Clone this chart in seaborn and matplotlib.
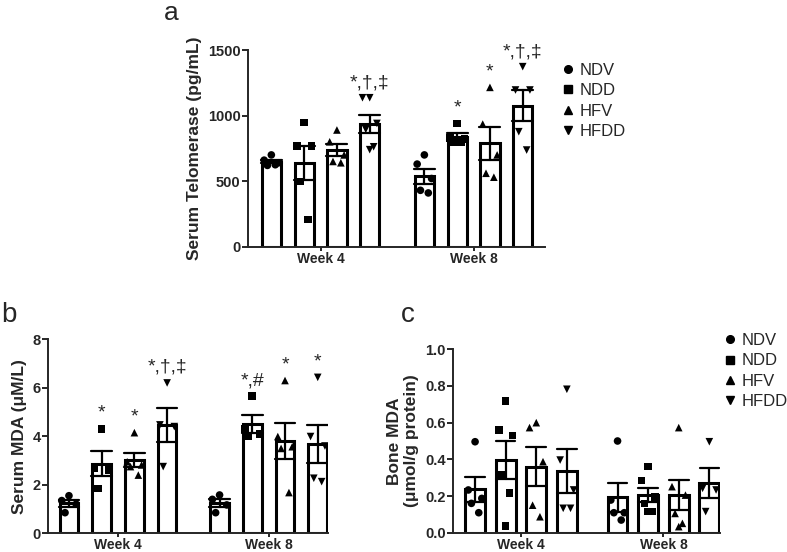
import numpy as np
import pandas as pd
import matplotlib
matplotlib.use("Agg")
import matplotlib.pyplot as plt
from matplotlib.lines import Line2D
import seaborn as sns

# ------------------------------
# Data
# ------------------------------
groups = ["NDV", "NDD", "HFV", "HFDD"]
weeks = ["Week 4", "Week 8"]
markers = {"NDV": "o", "NDD": "s", "HFV": "^", "HFDD": "v"}

# a - serum telomerase (pg/mL)
telo_w4 = {
    "NDV": [700, 660, 640, 620, 625],
    "NDD": [946, 770, 770, 496, 208],
    "HFV": [890, 800, 700, 650, 640],
    "HFDD": [1136, 1136, 940, 895, 762, 740],
}
telo_w8 = {
    "NDV": [700, 630, 520, 430, 410],
    "NDD": [940, 830, 820, 800, 800],
    "HFV": [1215, 935, 700, 560, 530],
    "HFDD": [1373, 1195, 1195, 877, 737],
}
telo_notes = {(0, "HFDD"): "*,†,‡", (1, "NDD"): "*", (1, "HFV"): "*", (1, "HFDD"): "*,†,‡"}

# b - serum MDA (uM/L)
smda_w4 = {
    "NDV": [1.55, 1.35, 1.2, 0.85],
    "NDD": [4.3, 2.7, 2.6, 1.85],
    "HFV": [4.15, 2.95, 2.82, 2.75, 2.4],
    "HFDD": [6.2, 4.47, 4.4, 2.75],
}
smda_w8 = {
    "NDV": [1.58, 1.4, 1.17, 0.85],
    "NDD": [5.65, 4.3, 4.1, 4.0],
    "HFV": [6.3, 3.99, 3.57, 3.5, 1.68],
    "HFDD": [6.43, 3.99, 3.6, 2.27, 2.13],
}
smda_notes = {(0, "NDD"): "*", (0, "HFV"): "*", (0, "HFDD"): "*,†,‡",
              (1, "NDD"): "*,#", (1, "HFV"): "*", (1, "HFDD"): "*"}

# c - bone MDA (umol/g protein)
bmda_w4 = {
    "NDV": [0.496, 0.233, 0.187, 0.16, 0.109],
    "NDD": [0.718, 0.56, 0.529, 0.315, 0.215, 0.036],
    "HFV": [0.6, 0.573, 0.387, 0.15, 0.087],
    "HFDD": [0.782, 0.396, 0.233, 0.133, 0.133],
}
bmda_w8 = {
    "NDV": [0.5, 0.178, 0.109, 0.109, 0.069],
    "NDD": [0.36, 0.284, 0.196, 0.16, 0.115, 0.115],
    "HFV": [0.573, 0.251, 0.205, 0.105, 0.051, 0.033],
    "HFDD": [0.496, 0.242, 0.233, 0.115],
}
bmda_notes = {}

# horizontal scatter of points inside a bar (fraction of a bar slot)
JIT = [0.0, -0.22, 0.22, -0.12, 0.12, 0.0]


def long_df(w4, w8):
    rows = []
    for wi, d in enumerate([w4, w8]):
        for g in groups:
            for k, v in enumerate(d[g]):
                rows.append(dict(week=wi, group=g, value=v, k=k))
    return pd.DataFrame(rows)


def panel(ax, w4, w8, width, gap, xlim, ylim, yticks, ylabel, fmt, notes, pad):
    df = long_df(w4, w8)
    step = width / 4
    sns.barplot(data=df, x="week", y="value", hue="group", hue_order=groups,
                native_scale=True, width=width, gap=gap, errorbar="se", capsize=0.55,
                palette={g: "white" for g in groups}, edgecolor="black", linewidth=2.2,
                err_kws={"color": "black", "linewidth": 1.6}, legend=False, ax=ax)
    gi = df["group"].map(groups.index)
    df["pos"] = df["week"] + (gi - 1.5) * step + df["k"].map(lambda k: JIT[k % len(JIT)]) * step
    sns.scatterplot(data=df, x="pos", y="value", style="group", style_order=groups,
                    markers=markers, color="black", s=30, edgecolor="none",
                    zorder=4, ax=ax)
    if ax.get_legend() is not None:
        ax.get_legend().remove()

    for (wi, g), txt in notes.items():
        vals = (w4 if wi == 0 else w8)[g]
        x = wi + (groups.index(g) - 1.5) * step
        ax.text(x, max(vals) + pad, txt, ha="center", va="bottom", fontsize=14)

    ax.set_xlim(*xlim)
    ax.set_ylim(*ylim)
    ax.set_yticks(yticks)
    ax.set_yticklabels([fmt.format(t) for t in yticks])
    ax.set_xticks([0, 1])
    ax.set_xticklabels(weeks)
    ax.set_xlabel("")
    ax.set_ylabel(ylabel, fontsize=12.5, fontweight="bold", labelpad=4)
    for lab in ax.get_xticklabels() + ax.get_yticklabels():
        lab.set_fontweight("bold")
    ax.tick_params(axis="y", labelsize=10.5, width=1.4, length=4, pad=1.5)
    ax.tick_params(axis="x", labelsize=10, width=1.4, length=3, pad=0.5)
    sns.despine(ax=ax)
    for s in ["left", "bottom"]:
        ax.spines[s].set_linewidth(1.4)


sns.set_style("ticks")
plt.rcParams["font.family"] = ["Liberation Sans", "DejaVu Sans"]

fig = plt.figure(figsize=(7.87, 5.52), dpi=100)
W, H = 787, 552


def add_axes(left, top, right, bottom):
    return fig.add_axes([left / W, 1 - bottom / H, (right - left) / W, (bottom - top) / H])


ax_a = add_axes(248.3, 50, 545, 246.7)
ax_b = add_axes(48.3, 339.3, 328.3, 533.3)
ax_c = add_axes(453.3, 349.3, 720, 532.7)

panel(ax_a, telo_w4, telo_w8, 0.857, 0.415, (-0.472, 1.467), (0, 1500),
      [0, 500, 1000, 1500], "Serum Telomerase (pg/mL)", "{:.0f}", telo_notes, 50)
panel(ax_b, smda_w4, smda_w8, 0.869, 0.43, (-0.463, 1.396), (0, 8),
      [0, 2, 4, 6, 8], "Serum MDA (μM/L)", "{:.0f}", smda_notes, 0.3)
panel(ax_c, bmda_w4, bmda_w8, 0.859, 0.35, (-0.475, 1.397), (0, 1.0),
      [0, 0.2, 0.4, 0.6, 0.8, 1.0], "Bone MDA\n(μmol/g protein)", "{:.1f}", bmda_notes, 0.04)

# legends
handles = [Line2D([], [], linestyle="none", marker=markers[g], color="black",
                  markersize=5.5) for g in groups]
for anchor in [(561 / W, 1 - 63 / H), (723 / W, 1 - 333 / H)]:
    fig.legend(handles, groups, loc="upper left", bbox_to_anchor=anchor, frameon=False,
               fontsize=12, handletextpad=0.3, labelspacing=0.32, handlelength=0.8,
               borderaxespad=0, borderpad=0)

# panel letters
fig.text(164 / W, 1 - 20 / H, "a", fontsize=19, va="baseline")
fig.text(1.7 / W, 1 - 321.7 / H, "b", fontsize=20, va="baseline")
fig.text(401 / W, 1 - 321.7 / H, "c", fontsize=20, va="baseline")

fig.savefig("out.png", dpi=100)
